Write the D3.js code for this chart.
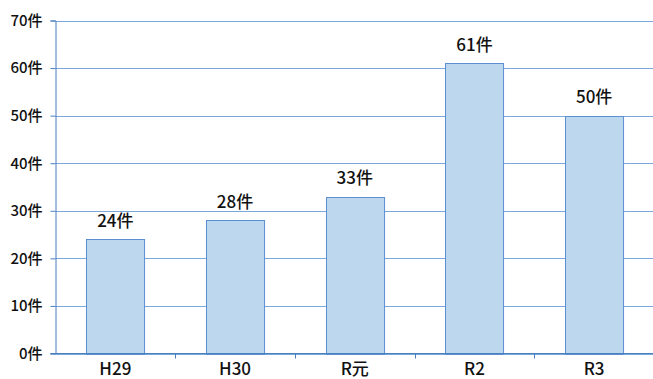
<!DOCTYPE html>
<html>
<head>
<meta charset="utf-8">
<script src="https://cdn.jsdelivr.net/npm/d3@7"></script>
<style>
  html, body { margin: 0; padding: 0; background: #fff; }
  svg { display: block; }
  text { font-family: "Noto Sans CJK JP", "Noto Sans", sans-serif; fill: #111; font-weight: 500; }
</style>
</head>
<body>
<svg id="chart" width="653" height="379"></svg>
<script>
// Annual counts (件)
const categories = ["H29", "H30", "R元", "R2", "R3"];
const counts = [24, 28, 33, 61, 50];
const yTicks = [0, 10, 20, 30, 40, 50, 60, 70];
const unit = "件";

const svg = d3.select("#chart");
const plotLeft = 55.5, plotRight = 654, plotTop = 20.5, plotBottom = 353.5;

const x = d3.scaleBand().domain(categories).range([plotLeft, plotRight]).paddingInner(0.515).paddingOuter(0.2575);
const xTicksBand = d3.scaleBand().domain(categories).range([plotLeft, plotRight]);
const y = d3.scaleLinear().domain([0, 70]).range([plotBottom, plotTop]);

// horizontal gridlines
svg.append("g")
  .selectAll("line")
  .data(yTicks)
  .join("line")
  .attr("x1", plotLeft).attr("x2", plotRight)
  .attr("y1", d => Math.round(y(d)) + 0.5).attr("y2", d => Math.round(y(d)) + 0.5)
  .attr("stroke", "#7aa7dc").attr("stroke-width", 1);

// bars
svg.append("g")
  .selectAll("rect")
  .data(counts)
  .join("rect")
  .attr("x", (d, i) => Math.round(x(categories[i])) + 0.5)
  .attr("y", d => Math.round(y(d)) + 0.5)
  .attr("width", x.bandwidth())
  .attr("height", d => Math.round(y(0)) - Math.round(y(d)))
  .attr("fill", "#bdd7ee")
  .attr("stroke", "#5b8fd0")
  .attr("stroke-width", 1);

// value labels
svg.append("g")
  .selectAll("text")
  .data(counts)
  .join("text")
  .attr("x", (d, i) => x(categories[i]) + x.bandwidth() / 2)
  .attr("y", d => y(d) - 12.5)
  .attr("text-anchor", "middle")
  .attr("font-size", 17)
  .text(d => d + unit);

// y axis
const yAxis = d3.axisLeft(y).tickValues(yTicks).tickSize(5).tickPadding(8).tickFormat(d => d + unit);
const gy = svg.append("g").attr("transform", `translate(${plotLeft},0)`).call(yAxis);
gy.select(".domain").attr("stroke", "#4a7fc0");
gy.selectAll(".tick line").attr("stroke", "#4a7fc0");
gy.selectAll(".tick text").attr("font-size", 15).attr("fill", "#111")
  .attr("font-family", "\"Noto Sans CJK JP\", sans-serif");

// x axis
const gx = svg.append("g").attr("transform", `translate(0,${plotBottom})`);
gx.append("line").attr("x1", plotLeft - 5).attr("x2", plotRight).attr("y1", 0).attr("y2", 0).attr("stroke", "#4a7fc0");
gx.selectAll("line.tk")
  .data(categories.slice(1))
  .join("line")
  .attr("class", "tk")
  .attr("x1", d => Math.round(xTicksBand(d)) + 0.5).attr("x2", d => Math.round(xTicksBand(d)) + 0.5)
  .attr("y1", 0).attr("y2", 5)
  .attr("stroke", "#4a7fc0");
gx.selectAll("text")
  .data(categories)
  .join("text")
  .attr("x", d => x(d) + x.bandwidth() / 2)
  .attr("y", 21.5)
  .attr("text-anchor", "middle")
  .attr("font-size", 17)
  .text(d => d);
</script>
</body>
</html>
